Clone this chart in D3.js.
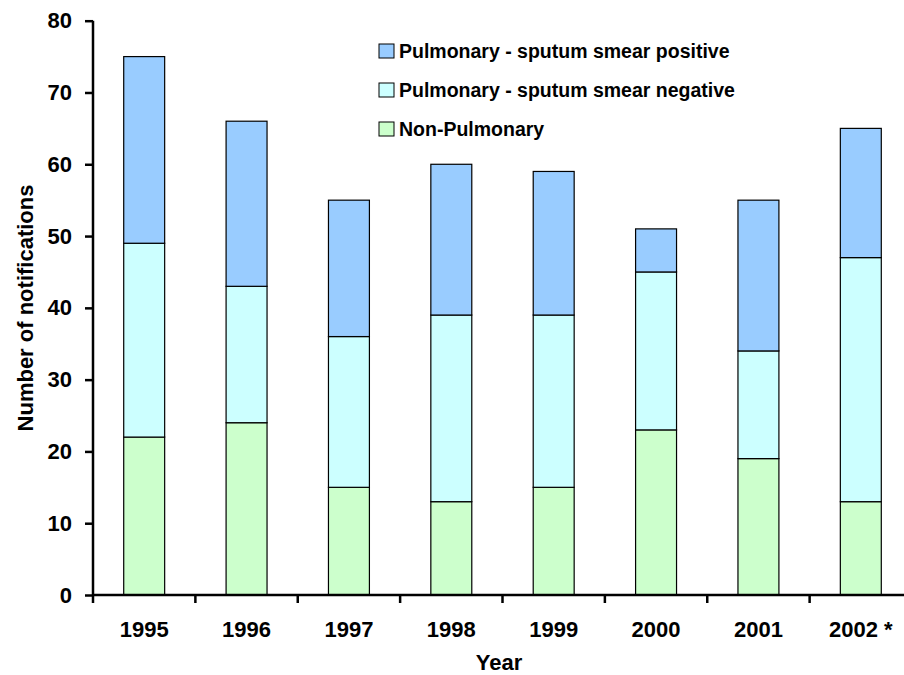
<!DOCTYPE html>
<html>
<head>
<meta charset="utf-8">
<script src="https://cdn.jsdelivr.net/npm/d3@7"></script>
<style>
  html, body { margin: 0; padding: 0; background: #fff; }
  svg { display: block; font-family: "Liberation Sans", Arial, sans-serif; font-weight: bold; }
</style>
</head>
<body>
<svg id="chart" width="904" height="675"></svg>
<script>
// Tuberculosis notifications by year and type
const years = ["1995", "1996", "1997", "1998", "1999", "2000", "2001", "2002 *"];
const nonPulmonary = [22, 24, 15, 13, 15, 23, 19, 13];
const smearNegative = [27, 19, 21, 26, 24, 22, 15, 34];
const smearPositive = [26, 23, 19, 21, 20, 6, 21, 18];
const yTicks = [0, 10, 20, 30, 40, 50, 60, 70, 80];

const seriesNames = ["Non-Pulmonary", "Pulmonary - sputum smear negative", "Pulmonary - sputum smear positive"];
const seriesColors = ["#CCFFCC", "#CCFFFF", "#99CCFF"];
const seriesValues = [nonPulmonary, smearNegative, smearPositive];

const svg = d3.select("#chart");
const plotLeft = 93, plotRight = 912, plotTop = 20.7, plotBottom = 595;
const FONT = "Liberation Sans, Arial, sans-serif";

const rows = years.map((y, i) => {
  const r = { year: y };
  seriesNames.forEach((s, k) => r[s] = seriesValues[k][i]);
  return r;
});
const stacked = d3.stack().keys(seriesNames)(rows);

const x = d3.scaleBand().domain(years).range([plotLeft, plotRight]).padding(0);
const y = d3.scaleLinear().domain([0, 80]).range([plotBottom, plotTop]);
const barW = x.bandwidth() * 0.4;

// Stacked bars
svg.append("g").selectAll("g")
  .data(stacked)
  .join("g")
  .attr("fill", (d, i) => seriesColors[i])
  .selectAll("rect")
  .data(d => d)
  .join("rect")
  .attr("x", d => x(d.data.year) + (x.bandwidth() - barW) / 2)
  .attr("y", d => y(d[1]))
  .attr("width", barW)
  .attr("height", d => y(d[0]) - y(d[1]))
  .attr("stroke", "#000")
  .attr("stroke-width", 1.2);

// Y axis
const yAxis = svg.append("g")
  .attr("transform", `translate(${plotLeft},0)`)
  .call(d3.axisLeft(y).tickValues(yTicks).tickSize(8).tickPadding(13));
yAxis.select(".domain").attr("stroke-width", 2.5).attr("d", `M0,${plotBottom}V${plotTop}`);
yAxis.selectAll(".tick line").attr("stroke-width", 2.5);
yAxis.selectAll("text").attr("font-size", 22).attr("font-weight", "bold")
  .attr("font-family", FONT).attr("fill", "#000");

// X axis, with ticks between the categories
const xAxis = svg.append("g")
  .attr("transform", `translate(0,${plotBottom})`)
  .call(d3.axisBottom(x).tickSize(0).tickPadding(26));
xAxis.select(".domain").attr("stroke-width", 2.5).attr("d", `M${plotLeft},0H${plotRight}`);
xAxis.selectAll("text").attr("font-size", 22).attr("font-weight", "bold")
  .attr("font-family", FONT).attr("fill", "#000");
xAxis.selectAll(".sep")
  .data(years)
  .join("line")
  .attr("class", "sep")
  .attr("x1", d => x(d)).attr("x2", d => x(d))
  .attr("y1", 0).attr("y2", 8)
  .attr("stroke", "#000").attr("stroke-width", 2.5);

// Axis titles
svg.append("text")
  .attr("transform", `translate(33,${308}) rotate(-90)`)
  .attr("text-anchor", "middle")
  .attr("font-size", 22)
  .text("Number of notifications");

svg.append("text")
  .attr("x", 499).attr("y", 670)
  .attr("text-anchor", "middle")
  .attr("font-size", 22)
  .text("Year");

// Legend
const legendItems = seriesNames.map((n, i) => ({ name: n, color: seriesColors[i] })).reverse();
const legend = svg.append("g").selectAll("g")
  .data(legendItems)
  .join("g")
  .attr("transform", (d, i) => `translate(379,${51 + i * 39})`);
legend.append("rect")
  .attr("x", 0).attr("y", -7).attr("width", 15).attr("height", 14)
  .attr("fill", d => d.color).attr("stroke", "#000").attr("stroke-width", 1);
legend.append("text")
  .attr("x", 20).attr("y", 0)
  .attr("dominant-baseline", "central")
  .attr("font-size", 19.5)
  .text(d => d.name);
</script>
</body>
</html>
